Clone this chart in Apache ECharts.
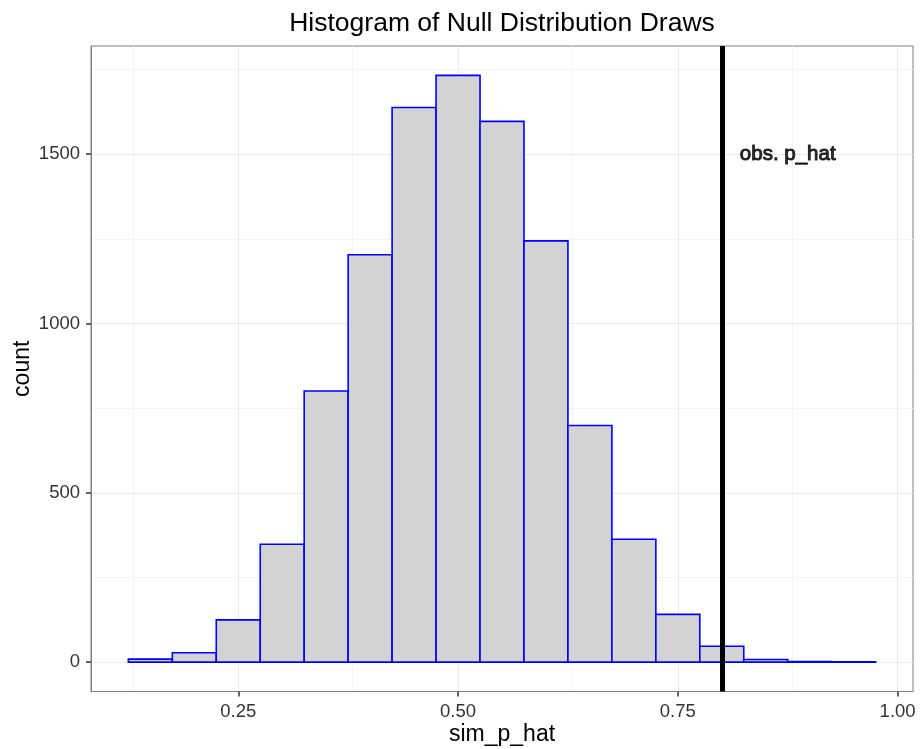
<!DOCTYPE html>
<html>
<head>
<meta charset="utf-8">
<script src="https://cdn.jsdelivr.net/npm/echarts@6/dist/echarts.min.js"></script>
<style>
  html, body { margin: 0; padding: 0; background: #fff; }
  #chart { width: 920px; height: 749px; }
</style>
</head>
<body>
<div id="chart"></div>
<script>
// histogram bins (centres) and counts
const binCenters = [0.15, 0.20, 0.25, 0.30, 0.35, 0.40, 0.45, 0.50, 0.55, 0.60, 0.65, 0.70, 0.75, 0.80, 0.85, 0.90, 0.95]
const counts = [9, 28, 125, 348, 801, 1203, 1638, 1733, 1597, 1244, 699, 363, 141, 47, 8, 2, 1]
const binWidth = 0.05

const xTicks = [0.25, 0.50, 0.75, 1.00]
const xMinorGrid = [0.125, 0.375, 0.625, 0.875]
const yTicks = [0, 500, 1000, 1500]
const yMinorGrid = [250, 750, 1250, 1750]

const obsValue = 0.8
const obsLabel = 'obs. p_hat'
const obsLabelAt = [0.875, 1500]

const xRange = [0.0825, 1.0175]
const yRange = [-86.65, 1819.65]

const font = '"Liberation Sans", Arial, sans-serif'

let chart = echarts.init(document.getElementById('chart'))

function gridLines(axis, values, color) {
  return values.map((v) => ({ [axis]: v, lineStyle: { color: color, width: 1, type: 'solid' } }))
}

let option = {
  animation: false,
  title: {
    text: 'Histogram of Null Distribution Draws',
    left: 497,
    top: 5,
    textAlign: 'center',
    textStyle: { fontFamily: font, fontSize: 26.5, fontWeight: 'normal', color: '#000' },
  },
  grid: {
    left: 91,
    right: 7,
    top: 46,
    bottom: 57.5,
    containLabel: false,
    outerBoundsMode: 'none',
    show: true,
    borderColor: '#7f7f7f',
    borderWidth: 1,
    backgroundColor: 'transparent',
  },
  xAxis: {
    type: 'value',
    min: xRange[0],
    max: xRange[1],
    name: 'sim_p_hat',
    nameLocation: 'middle',
    nameGap: 32,
    nameMoveOverlap: false,
    nameTextStyle: { fontFamily: font, fontSize: 23, color: '#000' },
    axisLine: { show: true, onZero: false, lineStyle: { color: '#7f7f7f', width: 1 } },
    axisTick: { show: true, length: 5, customValues: xTicks, lineStyle: { color: '#333', width: 1.5 } },
    axisLabel: {
      customValues: xTicks,
      margin: 11,
      fontFamily: font,
      fontSize: 18.5,
      color: '#333',
      formatter: (v) => v.toFixed(2),
    },
    splitLine: { show: false },
  },
  yAxis: {
    type: 'value',
    min: yRange[0],
    max: yRange[1],
    name: 'count',
    nameLocation: 'middle',
    nameGap: 57,
    nameRotate: 90,
    nameMoveOverlap: false,
    nameTextStyle: { fontFamily: font, fontSize: 23, color: '#000' },
    axisLine: { show: true, onZero: false, lineStyle: { color: '#7f7f7f', width: 1 } },
    axisTick: { show: true, length: 5, customValues: yTicks, lineStyle: { color: '#333', width: 1.5 } },
    axisLabel: {
      customValues: yTicks,
      margin: 11,
      fontFamily: font,
      fontSize: 18.5,
      color: '#333',
      formatter: (v) => String(v),
    },
    splitLine: { show: false },
  },
  series: [
    {
      // background grid
      type: 'line',
      data: [],
      z: 0,
      silent: true,
      markLine: {
        z: 0,
        silent: true,
        symbol: 'none',
        label: { show: false },
        animation: false,
        data: [
          ...gridLines('xAxis', xMinorGrid, '#f4f4f4'),
          ...gridLines('yAxis', yMinorGrid, '#f4f4f4'),
          ...gridLines('xAxis', xTicks, '#ebebeb'),
          ...gridLines('yAxis', yTicks, '#ebebeb'),
        ],
      },
    },
    {
      type: 'custom',
      z: 2,
      data: binCenters.map((c, i) => [c, counts[i]]),
      renderItem: (params, api) => {
        let x = api.value(0)
        let c = api.value(1)
        let p0 = api.coord([x - binWidth / 2, c])
        let p1 = api.coord([x + binWidth / 2, 0])
        return {
          type: 'rect',
          shape: { x: p0[0], y: p0[1], width: p1[0] - p0[0], height: p1[1] - p0[1] },
          style: { fill: '#d3d3d3', stroke: '#0000ff', lineWidth: 1.6 },
        }
      },
    },
    {
      type: 'scatter',
      z: 5,
      symbolSize: 0,
      data: [obsLabelAt],
      label: {
        show: true,
        position: 'inside',
        formatter: obsLabel,
        fontFamily: font,
        fontSize: 20.5,
        fontWeight: 'normal',
        color: '#000',
        textBorderColor: '#000',
        textBorderWidth: 1,
      },
      markLine: {
        z: 5,
        silent: true,
        symbol: 'none',
        label: { show: false },
        lineStyle: { color: '#000', width: 5, type: 'solid' },
        data: [{ xAxis: obsValue }],
      },
    },
  ],
}

chart.setOption(option)
</script>
</body>
</html>
